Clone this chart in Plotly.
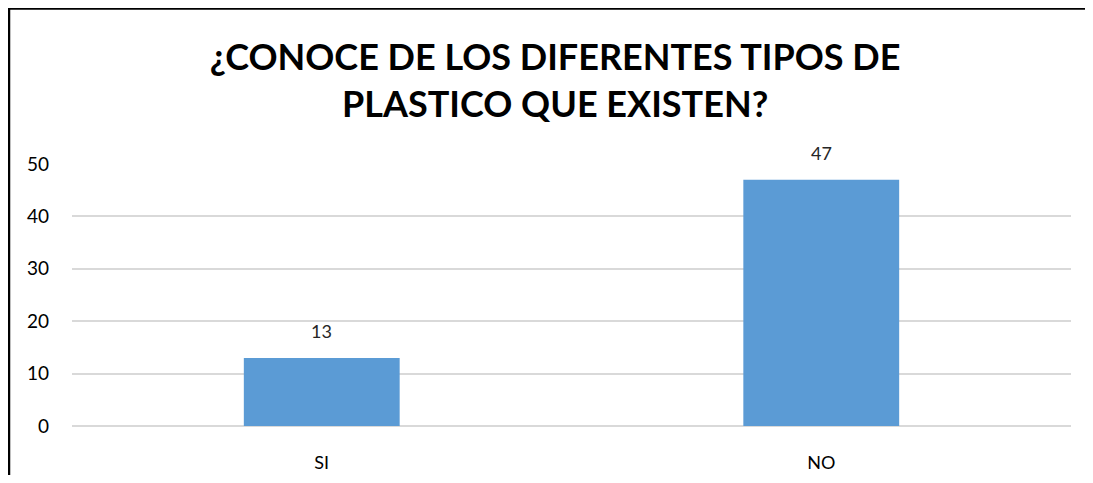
import plotly.graph_objects as go

categories = ["SI", "NO"]
values = [13, 47]
title_text = "¿CONOCE DE LOS DIFERENTES TIPOS DE<br>PLASTICO QUE EXISTEN?"

# page body has an 8px margin; figure is sized to fit inside the window
OFF = 8
W, H = 1093 - 2 * OFF, 483 - 2 * OFF
L, R, T, B = 72 - OFF, W - (1071 - OFF), 164 - OFF, H - (426 - OFF)
pw, ph = W - L - R, H - T - B
FONT = "Lato, Open Sans, sans-serif"

fig = go.Figure(go.Bar(
    x=categories, y=values,
    marker=dict(color="#5B9BD5", line=dict(width=0)),
    hoverinfo="x+y",
))

for c, v in zip(categories, values):
    fig.add_annotation(x=c, y=v, text=str(v), showarrow=False, yanchor="bottom", yshift=14,
                       font=dict(family=FONT, size=18, color="#262626"))

def px_x(x):
    return (x - OFF - L) / pw

def px_y(y):
    return (H - B - (y - OFF)) / ph

fig.update_layout(
    width=W, height=H,
    margin=dict(l=L, r=R, t=T, b=B, autoexpand=False),
    paper_bgcolor="white", plot_bgcolor="white",
    bargap=0.688,
    showlegend=False,
    title=dict(text=title_text, x=0.508, xanchor="center", y=1 - 62 / H, yanchor="middle",
               font=dict(family=FONT, size=36, color="#000000")),
    xaxis=dict(showgrid=False, showline=False, ticks="", ticklabelstandoff=24, automargin=False,
               tickfont=dict(family=FONT, size=18, color="#000000")),
    yaxis=dict(range=[0, 50], dtick=10, showgrid=True, gridcolor="#D9D9D9", gridwidth=1.5,
               zeroline=True, zerolinecolor="#D9D9D9", zerolinewidth=1.5, showline=False,
               ticks="", ticklabelstandoff=22, automargin=False,
               tickfont=dict(family=FONT, size=19, color="#000000")),
    font=dict(family=FONT),
    shapes=[
        dict(type="line", xref="paper", yref="paper", x0=px_x(8), x1=px_x(1085), y0=px_y(8.5), y1=px_y(8.5),
             line=dict(color="black", width=2.5)),
        dict(type="line", xref="paper", yref="paper", x0=px_x(9), x1=px_x(9), y0=px_y(8), y1=px_y(475),
             line=dict(color="black", width=2.5)),
    ],
)
fig.update_layout(title_font_weight="bold")
fig.write_html("out.html", config={"displayModeBar": False})
